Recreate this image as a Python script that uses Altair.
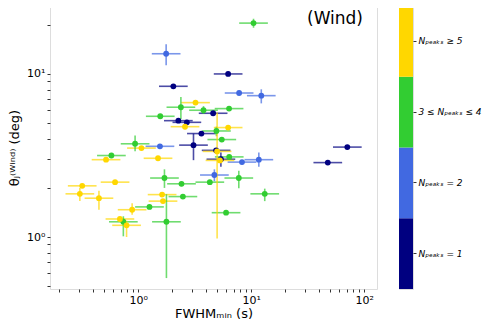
import altair as alt
import pandas as pd

# ---- data ----
cats = ["N1", "N2", "N34", "N5"]
cat_labels = ["Nₚₑₐₖₛ = 1", "Nₚₑₐₖₛ = 2", "3 ≤ Nₚₑₐₖₛ ≤ 4", "Nₚₑₐₖₛ ≥ 5"]
cat_colors = ["#000080", "#4169E1", "#32CD32", "#FFD700"]

# N_peaks = 1 (navy)
n1_x = [6.26, 2.05, 4.61, 2.27, 2.7, 3.63, 3.09, 71.0, 4.9, 5.4, 47.7]
n1_y = [10.0, 8.4, 5.74, 5.17, 5.05, 4.31, 3.66, 3.56, 3.4, 3.0, 2.86]
n1_ylo = [9.7, 8.15, 5.55, 5.0, 4.88, 4.17, 2.96, 3.45, 3.29, 2.7, 2.77]
n1_yhi = [10.3, 8.65, 5.93, 5.34, 5.22, 4.45, 4.3, 3.67, 3.51, 3.3, 2.95]

# N_peaks = 2 (royal blue)
n2_x = [1.77, 7.83, 12.3, 1.56, 8.3, 11.7, 4.73]
n2_y = [13.3, 7.64, 7.36, 3.6, 2.88, 2.98, 2.4]
n2_ylo = [11.3, 7.4, 6.6, 3.49, 2.79, 2.7, 2.2]
n2_yhi = [15.2, 7.88, 8.05, 3.71, 2.97, 3.3, 2.6]

# 3 <= N_peaks <= 4 (lime green)
n34_x = [10.5, 2.39, 3.79, 6.38, 1.57, 4.93, 5.5, 0.94, 0.58, 6.4,
         1.71, 2.42, 4.31, 7.78, 2.49, 13.2, 1.26, 0.74, 1.78, 6.0]
n34_y = [20.5, 6.25, 5.99, 6.13, 5.5, 4.47, 3.96, 3.73, 3.16, 3.1,
         2.3, 2.12, 2.17, 2.3, 1.77, 1.84, 1.53, 1.24, 1.24, 1.41]
n34_ylo = [19.2, 5.3, 5.7, 5.94, 5.33, 4.15, 3.84, 3.36, 3.06, 3.0,
           2.0, 2.05, 2.1, 1.99, 1.71, 1.66, 1.48, 1.01, 0.56, 1.37]
n34_yhi = [21.8, 7.22, 6.35, 6.32, 5.67, 4.75, 4.08, 4.2, 3.26, 3.2,
           2.6, 2.19, 2.24, 2.55, 1.83, 1.98, 1.58, 1.34, 1.83, 1.45]

# N_peaks >= 5 (gold)
n5_x = [3.22, 2.6, 6.26, 1.07, 0.52, 1.5, 5.0, 5.3, 0.32, 0.305,
        0.625, 0.45, 1.63, 1.66, 0.885, 0.69, 0.79]
n5_y = [6.67, 4.75, 4.69, 3.51, 2.98, 3.04, 3.35, 2.95, 2.06, 1.84,
        2.17, 1.73, 1.82, 1.66, 1.47, 1.29, 1.18]
n5_ylo = [6.47, 4.55, 4.55, 3.4, 2.89, 2.95, 0.98, 2.86, 2.0, 1.66,
          2.1, 1.47, 1.76, 1.61, 1.37, 1.25, 1.0]
n5_yhi = [6.87, 4.95, 4.83, 3.62, 3.07, 3.13, 5.8, 3.04, 2.12, 2.0,
          2.24, 1.92, 1.88, 1.71, 1.61, 1.33, 1.26]

XERR_DEX = 0.127  # half-width of horizontal error bars (in decades)

x_major = [1, 10, 100]
x_minor = [0.2, 0.3, 0.4, 0.5, 0.6, 0.7, 0.8, 0.9, 2, 3, 4, 5, 6, 7, 8, 9,
           20, 30, 40, 50, 60, 70, 80, 90]
y_major = [1, 10]
y_minor = [0.5, 0.6, 0.7, 0.8, 0.9, 2, 3, 4, 5, 6, 7, 8, 9, 20]

rows = []
for cat, xs, ys, lo, hi in [("N1", n1_x, n1_y, n1_ylo, n1_yhi),
                            ("N2", n2_x, n2_y, n2_ylo, n2_yhi),
                            ("N34", n34_x, n34_y, n34_ylo, n34_yhi),
                            ("N5", n5_x, n5_y, n5_ylo, n5_yhi)]:
    for x, y, a, b in zip(xs, ys, lo, hi):
        rows.append(dict(cat=cat, x=x, y=y, ylo=a, yhi=b,
                         xlo=x / 10 ** XERR_DEX, xhi=x * 10 ** XERR_DEX))
df = pd.DataFrame(rows)

FONT = "DejaVu Sans"
xscale = alt.Scale(type="log", domain=[0.166, 130], nice=False)
yscale = alt.Scale(type="log", domain=[0.48, 26.1], nice=False)
color = alt.Color("cat:N", scale=alt.Scale(domain=cats, range=cat_colors), legend=None)

x_lab = "datum.value == 1 ? '10⁰' : datum.value == 10 ? '10¹' : datum.value == 100 ? '10²' : ''"
y_lab = "datum.value == 1 ? '10⁰' : datum.value == 10 ? '10¹' : ''"

xaxis = alt.Axis(values=x_major + x_minor, labelExpr=x_lab, title="FWHMₘᵢₙ (s)",
                 grid=False, domain=False, tickSize=3, tickColor="#333",
                 labelFont=FONT, labelFontSize=11, labelColor="black",
                 titleFont=FONT, titleFontSize=13, titleFontWeight="normal",
                 titleColor="black", labelPadding=2, titlePadding=2, labelFlush=False)
yaxis = alt.Axis(values=y_major + y_minor, labelExpr=y_lab, title="θⱼ⁽ᵂⁱⁿᵈ⁾ (deg)",
                 grid=False, domain=False, tickSize=3, tickColor="#333",
                 labelFont=FONT, labelFontSize=11, labelColor="black",
                 titleFont=FONT, titleFontSize=13, titleFontWeight="normal",
                 titleColor="black", labelPadding=2, titlePadding=5, labelFlush=False)

base = alt.Chart(df)
xbars = base.mark_rule(strokeWidth=1.6, opacity=0.7).encode(
    x=alt.X("xlo:Q", scale=xscale, axis=xaxis), x2="xhi:Q",
    y=alt.Y("y:Q", scale=yscale, axis=yaxis), color=color)
ybars = base.mark_rule(strokeWidth=1.6, opacity=0.7).encode(
    x=alt.X("x:Q", scale=xscale), y=alt.Y("ylo:Q", scale=yscale), y2="yhi:Q", color=color)
pts = base.mark_circle(size=34, opacity=1).encode(
    x=alt.X("x:Q", scale=xscale), y=alt.Y("y:Q", scale=yscale), color=color)

label = alt.Chart(pd.DataFrame({"t": ["(Wind)"]})).mark_text(
    font=FONT, fontSize=17, align="right", baseline="middle", color="black"
).encode(text="t:N", x=alt.value(313), y=alt.value(13))

main = alt.layer(xbars, ybars, pts, label).properties(width=327, height=283)

cb_df = pd.DataFrame({"cat": cats, "label": cat_labels})
cbar = alt.Chart(cb_df).mark_rect().encode(
    y=alt.Y("label:N", sort=cat_labels[::-1],
            scale=alt.Scale(paddingInner=0, paddingOuter=0),
            axis=alt.Axis(orient="right", title=None, domain=False, tickSize=3,
                          tickColor="#333", labelFont=FONT, labelFontSize=9,
                          labelFontStyle="italic", labelColor="black", labelPadding=2)),
    color=color,
).properties(width=14, height=283)

chart = alt.hconcat(main, cbar, spacing=20).properties(
    padding={"left": 0, "top": -3, "right": 0, "bottom": 0}
).configure_view(stroke="#333", strokeWidth=1).configure(background="white")

chart.save("out.html", embed_options={"renderer": "svg", "actions": False})
